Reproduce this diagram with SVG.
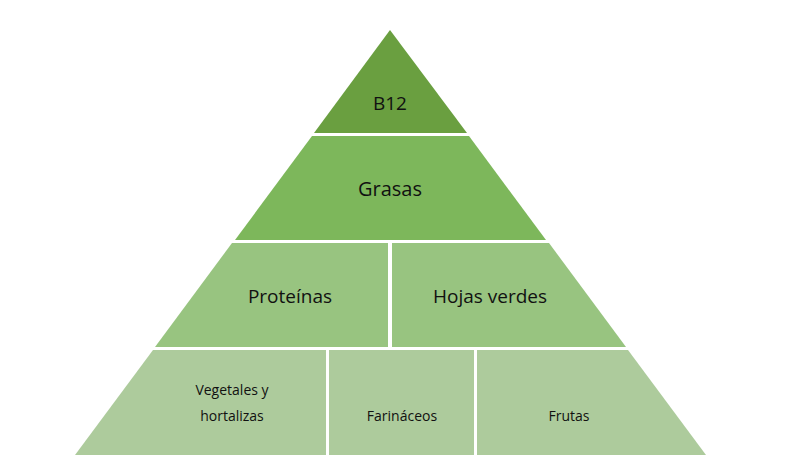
<svg xmlns="http://www.w3.org/2000/svg" width="800" height="474" viewBox="0 0 800 474">
<style>
text{font-family:"Open Sans","Liberation Sans",sans-serif;fill:#111;text-anchor:middle;dominant-baseline:central}
.l{font-size:19px}.s{font-size:14px}
</style>
<rect width="800" height="474" fill="#fff"/>
<g id="b12"><polygon points="390,30 467,133 314,133" fill="#6a9f40"/><text class="l" x="390" y="103">B12</text></g>
<g id="grasas"><polygon points="312,136 469,136 546,240 235,240" fill="#7db75b"/><text class="l" x="390" y="188" style="font-size:20px">Grasas</text></g>
<g id="proteinas"><polygon points="232,243 388,243 388,347 155,347" fill="#98c480"/><text class="l" x="290" y="296">Proteínas</text></g>
<g id="hojas"><polygon points="392,243 549,243 626,347 392,347" fill="#98c480"/><text class="l" x="490" y="296">Hojas verdes</text></g>
<g id="vegetales"><polygon points="153,350 326,350 326,455 75,455" fill="#adcb9c"/><text class="s" x="232" y="389">Vegetales y</text><text class="s" x="232" y="415">hortalizas</text></g>
<g id="farinaceos"><polygon points="329,350 474,350 474,455 329,455" fill="#adcb9c"/><text class="s" x="402" y="415">Farináceos</text></g>
<g id="frutas"><polygon points="477,350 628,350 706,455 477,455" fill="#adcb9c"/><text class="s" x="569" y="415">Frutas</text></g>
<g id="connectors"></g>
</svg>
